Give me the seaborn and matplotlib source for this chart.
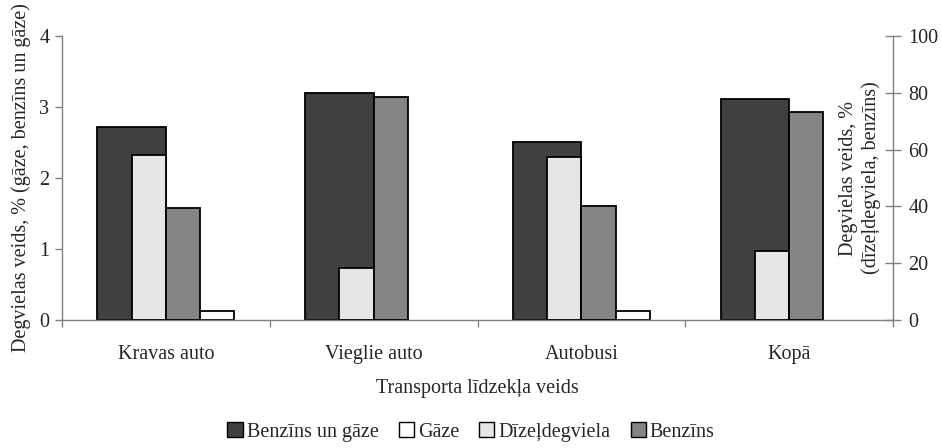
import matplotlib
matplotlib.use("Agg")
import matplotlib.pyplot as plt
import seaborn as sns
import pandas as pd
from matplotlib.patches import Patch

categories = ["Kravas auto", "Vieglie auto", "Autobusi", "Kopā"]
benzins_un_gaze = [2.72, 3.20, 2.50, 3.11]   # left axis
gaze = [0.12, 0.0, 0.12, 0.0]                # left axis
dizeldegviela = [58.0, 18.2, 57.5, 24.3]     # right axis
benzins = [39.5, 78.6, 40.0, 73.2]           # right axis

s_bg, s_g, s_d, s_b = "Benzīns un gāze", "Gāze", "Dīzeļdegviela", "Benzīns"
colors = {s_bg: "#404040", s_g: "#ffffff", s_d: "#e6e6e6", s_b: "#858585"}

left_df = pd.DataFrame({
    "cat": categories * 2,
    "val": benzins_un_gaze + gaze,
    "ser": [s_bg] * 4 + [s_g] * 4,
})
right_df = pd.DataFrame({
    "cat": categories * 2,
    "val": dizeldegviela + benzins,
    "ser": [s_d] * 4 + [s_b] * 4,
})

sns.set_style("white")
plt.rcParams["font.family"] = ["Liberation Serif", "DejaVu Serif"]
FS = 14.5
plt.rcParams["font.size"] = FS

fig = plt.figure(figsize=(9.42, 4.48), dpi=100)
ax = fig.add_axes([62 / 942, 1 - 320 / 448, (893 - 62) / 942, (320 - 36) / 448])
ax2 = ax.twinx()

sns.barplot(data=left_df, x="cat", y="val", hue="ser", hue_order=[s_bg, s_g],
            palette=colors, width=0.66, edgecolor="black", linewidth=1.3,
            legend=False, ax=ax, order=categories)
sns.barplot(data=right_df, x="cat", y="val", hue="ser", hue_order=[s_d, s_b],
            palette=colors, width=0.33, edgecolor="black", linewidth=1.3,
            legend=False, ax=ax2, order=categories)

for a in (ax, ax2):
    for p in a.patches:
        p.set_alpha(1)
        if p.get_height() == 0:
            p.set_linewidth(0)
    a.set_xlim(-0.5, 3.5)

ax.set_ylim(0, 4)
ax.set_yticks([0, 1, 2, 3, 4])
ax2.set_ylim(0, 100)
ax2.set_yticks([0, 20, 40, 60, 80, 100])

gray = "#808080"
for a in (ax, ax2):
    for side, sp in a.spines.items():
        sp.set_color(gray)
        sp.set_linewidth(1.0)
    a.spines["top"].set_visible(False)
ax.spines["right"].set_visible(False)
ax2.spines["left"].set_visible(False)
ax2.spines["bottom"].set_visible(False)

ax.tick_params(axis="y", direction="out", length=5, color=gray, width=1, labelsize=FS, pad=4, left=True)
ax2.tick_params(axis="y", direction="inout", length=12, color=gray, width=1, labelsize=FS, pad=5, right=True)
ax.set_xticks([-0.5, 0.5, 1.5, 2.5, 3.5], minor=True)
ax.tick_params(axis="x", which="major", length=0, labelsize=FS, pad=18)
ax.tick_params(axis="x", which="minor", direction="out", length=5, color=gray, width=1, bottom=True)

ax.set_xlabel("Transporta līdzekļa veids", fontsize=FS, labelpad=11)
ax.set_ylabel("Degvielas veids, % (gāze, benzīns un gāze)", fontsize=FS, labelpad=6)
ax2.set_ylabel("Degvielas veids, %\n(dīzeļdegviela, benzīns)", fontsize=FS,
               multialignment="center")
ax2.yaxis.set_label_coords(0.935, 0.5)

handles = [Patch(facecolor=colors[s], edgecolor="black", linewidth=1.0) for s in [s_bg, s_g, s_d, s_b]]
fig.legend(handles, [s_bg, s_g, s_d, s_b], loc="center", bbox_to_anchor=(0.5, 0.036),
           ncol=4, frameon=False, fontsize=FS, handlelength=0.75, handleheight=0.75,
           handletextpad=0.2, columnspacing=1.0)

fig.savefig("out.png", dpi=100)
